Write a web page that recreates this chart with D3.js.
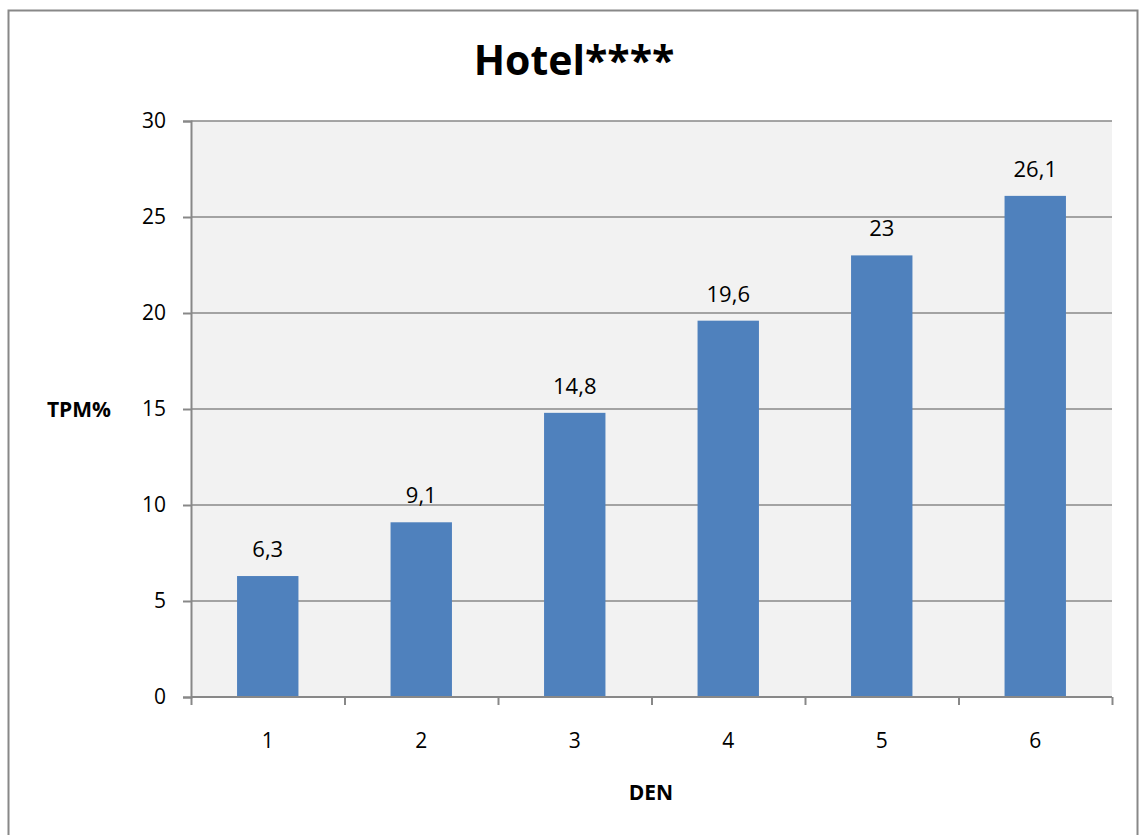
<!DOCTYPE html>
<html><head><meta charset="utf-8">
<script src="https://cdn.jsdelivr.net/npm/d3@7"></script>
<style>body{margin:0;background:#fff}svg{display:block}</style>
</head><body>
<script>
const categories = ["1","2","3","4","5","6"];
const values = [6.3, 9.1, 14.8, 19.6, 23, 26.1];
const valueLabels = ["6,3","9,1","14,8","19,6","23","26,1"];
const yTicks = [0,5,10,15,20,25,30];
const title = "Hotel****";
const xTitle = "DEN";
const yTitle = "TPM%";

const W = 1141, H = 835;
const m = {left:191, right:1112, top:121, bottom:697};
const font = "'Open Sans', sans-serif";
const svg = d3.select("body").append("svg").attr("width",W).attr("height",H);

svg.append("rect").attr("x",8.5).attr("y",10.5).attr("width",1129).attr("height",840)
  .attr("fill","#fff").attr("stroke","#888").attr("stroke-width",2);

const x = d3.scaleBand().domain(categories).range([m.left,m.right]).paddingInner(0.6).paddingOuter(0.3);
const y = d3.scaleLinear().domain([0,30]).range([m.bottom,m.top]);

svg.append("rect").attr("x",m.left).attr("y",m.top).attr("width",m.right-m.left).attr("height",m.bottom-m.top).attr("fill","#f2f2f2");

// gridlines
svg.append("g").selectAll("line").data(yTicks.filter(d=>d>0)).join("line")
  .attr("x1",m.left).attr("x2",m.right).attr("y1",d=>y(d)).attr("y2",d=>y(d))
  .attr("stroke","#888").attr("stroke-width",1.5);

// bars
svg.append("g").selectAll("rect").data(values).join("rect")
  .attr("x",(d,i)=>x(categories[i])).attr("width",x.bandwidth())
  .attr("y",d=>y(d)).attr("height",d=>y(0)-y(d)).attr("fill","#4f81bd");

// value labels
svg.append("g").selectAll("text").data(values).join("text")
  .attr("x",(d,i)=>x(categories[i])+x.bandwidth()/2).attr("y",d=>y(d)-19)
  .attr("text-anchor","middle").attr("font-family",font).attr("font-size",22).attr("fill","#000")
  .text((d,i)=>valueLabels[i]);

// y axis
const ya = svg.append("g").attr("transform",`translate(${m.left},0)`)
  .call(d3.axisLeft(y).tickValues(yTicks).tickSize(8).tickPadding(17));
ya.selectAll("path,line").attr("stroke","#888").attr("stroke-width",2);
ya.selectAll("text").attr("font-family",font).attr("font-size",21).attr("fill","#000");

// x axis
const xb = d3.scaleLinear().domain([0,6]).range([m.left,m.right]);
const xa = svg.append("g").attr("transform",`translate(0,${m.bottom})`)
  .call(d3.axisBottom(xb).tickValues(d3.range(0,7)).tickSize(8).tickFormat(""));
xa.selectAll("path,line").attr("stroke","#888").attr("stroke-width",2);
xa.select(".domain").attr("d",`M${m.left},0H${m.right}`);
svg.append("g").selectAll("text").data(categories).join("text")
  .attr("x",d=>x(d)+x.bandwidth()/2).attr("y",m.bottom+51)
  .attr("text-anchor","middle").attr("font-family",font).attr("font-size",21).attr("fill","#000").text(d=>d);

svg.append("text").attr("x",574).attr("y",75).attr("text-anchor","middle")
  .attr("font-family",font).attr("font-weight","bold").attr("font-size",41).text(title);
svg.append("text").attr("x",651).attr("y",800).attr("text-anchor","middle")
  .attr("font-family",font).attr("font-weight","bold").attr("font-size",21).text(xTitle);
svg.append("text").attr("x",79).attr("y",417).attr("text-anchor","middle")
  .attr("font-family",font).attr("font-weight","bold").attr("font-size",21).text(yTitle);
</script>
</body></html>
